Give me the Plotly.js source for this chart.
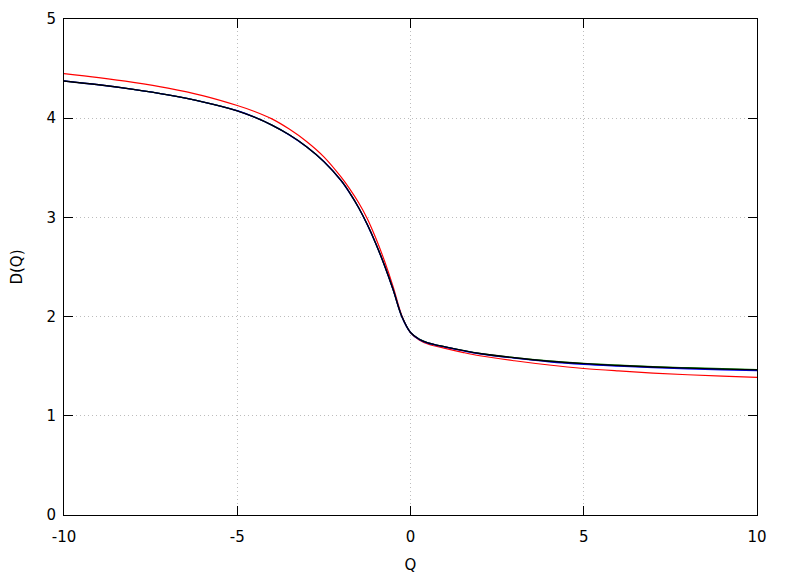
<!DOCTYPE html>
<html>
<head>
<meta charset="utf-8">
<script src="https://cdn.plot.ly/plotly-3.0.1.min.js"></script>
<style>html,body{margin:0;padding:0;background:#fff;}#chart{width:788px;height:576px;}</style>
</head>
<body>
<div id="chart"></div>
<script>
const Q = [-10,-9,-8,-7,-6,-5,-4.5,-4,-3.5,-3,-2.5,-2,-1.75,-1.5,-1.25,-1,-0.75,-0.5,-0.25,0,0.25,0.5,1,1.5,2,3,4,5,6,7,8,9,10];
const dRed   = [4.449,4.409,4.361,4.303,4.228,4.128,4.068,3.993,3.89,3.765,3.61,3.405,3.285,3.15,2.99,2.79,2.56,2.30,2.01,1.838,1.765,1.724,1.68,1.64,1.605,1.555,1.512,1.477,1.452,1.431,1.414,1.40,1.388];
const dGreen = [4.375,4.337,4.291,4.235,4.165,4.075,4.01,3.93,3.8325,3.7125,3.5625,3.37,3.245,3.10,2.93,2.735,2.515,2.27,2.00,1.84,1.773,1.736,1.696,1.661,1.63,1.587,1.553,1.528,1.510,1.496,1.485,1.475,1.466];
const dBlue  = [4.375,4.337,4.291,4.235,4.165,4.075,4.01,3.93,3.8325,3.7125,3.5625,3.37,3.245,3.10,2.93,2.735,2.515,2.27,2.00,1.84,1.771,1.734,1.693,1.657,1.625,1.581,1.545,1.519,1.501,1.486,1.474,1.464,1.455];
const dBlack = [4.375,4.337,4.291,4.235,4.165,4.075,4.01,3.93,3.8325,3.7125,3.5625,3.37,3.245,3.10,2.93,2.735,2.515,2.27,2.00,1.84,1.772,1.735,1.695,1.66,1.628,1.585,1.55,1.525,1.507,1.492,1.481,1.471,1.462];

const series = [
  {y: dRed, color: '#ff0000', w: 1.2},
  {y: dGreen, color: '#008000', w: 1.2},
  {y: dBlue, color: '#0000ff', w: 1.4},
  {y: dBlack, color: '#000000', w: 1.3}
];
const traces = series.map(s => ({
  x: Q, y: s.y, mode: 'lines', type: 'scatter',
  line: {color: s.color, width: s.w, shape: 'spline', smoothing: 1},
  showlegend: false, hoverinfo: 'skip'
}));

const font = {family: 'DejaVu Sans, sans-serif', size: 15, color: '#000'};
const axisCommon = {
  showline: true, linecolor: '#000', linewidth: 1, mirror: 'ticks',
  ticks: 'inside', ticklen: 9, tickcolor: '#000', tickwidth: 1,
  showgrid: true, gridcolor: '#bdbdbd', griddash: '1px,3px', gridwidth: 1,
  zeroline: false, tickfont: font
};
const layout = {
  width: 788, height: 576,
  margin: {l: 64, r: 31, t: 19, b: 61},
  paper_bgcolor: '#fff', plot_bgcolor: '#fff',
  font: font,
  xaxis: Object.assign({}, axisCommon, {
    range: [-10, 10], tickvals: [-10, -5, 0, 5, 10], ticktext: ['-10','-5','0','5','10'],
    ticklabelstandoff: 8,
    title: {text: 'Q', font: font, standoff: 14}
  }),
  yaxis: Object.assign({}, axisCommon, {
    range: [0, 5], tickvals: [0,1,2,3,4,5], ticktext: ['0','1','2','3','4','5'],
    ticklabelstandoff: 4,
    title: {text: 'D(Q)', font: font, standoff: 20}
  })
};
Plotly.newPlot('chart', traces, layout, {staticPlot: true, displayModeBar: false});
</script>
</body>
</html>
